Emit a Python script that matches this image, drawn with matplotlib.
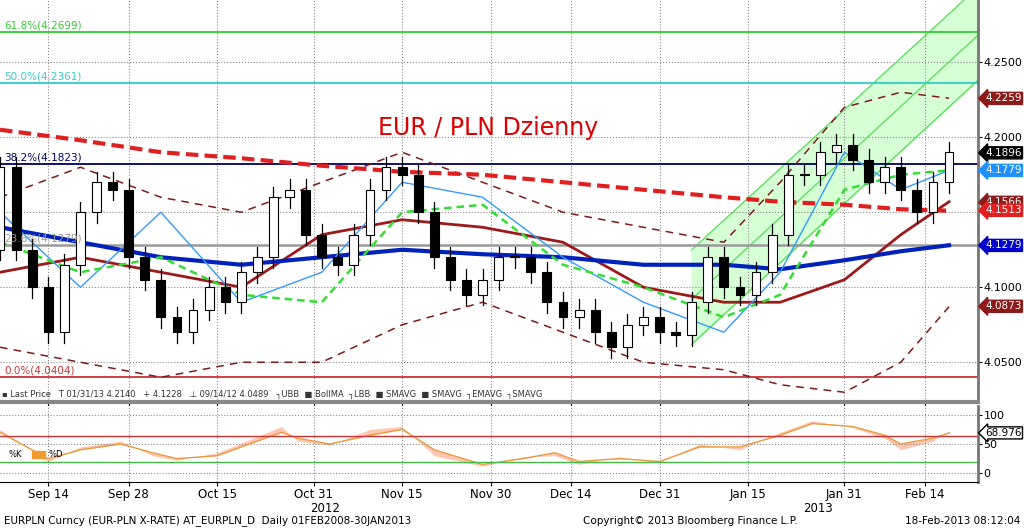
import numpy as np
import pandas as pd
import matplotlib
matplotlib.use('Agg')
import matplotlib.pyplot as plt
from matplotlib.patches import Rectangle

# %% data (x = business-day offset from 06 Sep 2012)
start = pd.Timestamp('2012-09-06')
bdays = pd.bdate_range(start, '2013-03-15')

closes = [4.180, 4.125, 4.100, 4.070, 4.115, 4.150, 4.170, 4.165, 4.120, 4.105,
          4.080, 4.070, 4.085, 4.100, 4.090, 4.110, 4.120, 4.160, 4.165, 4.135,
          4.120, 4.115, 4.135, 4.165, 4.180, 4.175, 4.150, 4.120, 4.105, 4.095,
          4.105, 4.120, 4.120, 4.110, 4.090, 4.080, 4.085, 4.070, 4.060, 4.075,
          4.080, 4.070, 4.068, 4.090, 4.120, 4.100, 4.095, 4.110, 4.135, 4.175,
          4.175, 4.190, 4.195, 4.185, 4.170, 4.180, 4.165, 4.150, 4.170, 4.190]
first_open = 4.125
wick = 0.007

knot_x = [0, 10, 20, 30, 40, 50, 60, 70, 80, 90, 97, 105, 112, 118]
ema200 = [4.205, 4.198, 4.190, 4.186, 4.181, 4.177, 4.175, 4.170, 4.165, 4.160, 4.157, 4.155, 4.152, 4.151]
sma100 = [4.140, 4.130, 4.120, 4.115, 4.120, 4.125, 4.122, 4.120, 4.115, 4.115, 4.112, 4.118, 4.124, 4.128]
boll_ma = [4.110, 4.120, 4.110, 4.100, 4.135, 4.145, 4.140, 4.130, 4.100, 4.090, 4.090, 4.105, 4.135, 4.157]
upper_bb = [4.160, 4.180, 4.160, 4.150, 4.170, 4.190, 4.170, 4.150, 4.140, 4.130, 4.170, 4.220, 4.230, 4.226]
lower_bb = [4.060, 4.050, 4.040, 4.050, 4.050, 4.075, 4.090, 4.070, 4.050, 4.045, 4.035, 4.030, 4.050, 4.087]
ema_fast = [4.130, 4.110, 4.120, 4.095, 4.090, 4.150, 4.155, 4.115, 4.100, 4.080, 4.095, 4.165, 4.175, 4.178]
sma_fast = [4.150, 4.100, 4.150, 4.090, 4.110, 4.170, 4.160, 4.120, 4.090, 4.070, 4.110, 4.190, 4.165, 4.178]

stoch_x = [0, 6, 10, 15, 19, 22, 27, 35, 37, 41, 46, 50, 54, 60, 65, 69, 72, 77, 82, 87, 92, 97, 101, 106, 110, 112, 116, 118]
stoch_d = [70, 25, 40, 50, 35, 25, 30, 70, 60, 50, 65, 75, 40, 15, 25, 35, 20, 25, 20, 45, 45, 65, 85, 80, 65, 50, 60, 69]
stoch_k = [75, 20, 45, 55, 30, 22, 35, 80, 55, 48, 75, 80, 30, 12, 28, 30, 15, 28, 18, 50, 40, 70, 90, 78, 60, 40, 55, 72]

fibs = [(4.2699, '61.8%(4.2699)', '#33cc33'), (4.2361, '50.0%(4.2361)', '#33cccc'),
        (4.1823, '38.2%(4.1823)', '#000066'), (4.1279, '23.6%(4.1279)', '#999999'),
        (4.0404, '0.0%(4.0404)', '#cc3333')]
chan_x = [86, 122]
chan_lo = [4.062, 4.240]
chan_mid = [4.092, 4.270]
chan_hi = [4.125, 4.302]

right_tags = [(4.2259, '#8b1a1a', 'white'), (4.1896, 'black', 'white'), (4.1779, '#1e90ff', 'white'),
              (4.1566, '#8b1a1a', 'white'), (4.1513, '#e02020', 'white'), (4.1279, '#0000cc', 'white'),
              (4.0873, '#8b1a1a', 'white')]

tick_dates = ['2012-09-14', '2012-09-28', '2012-10-15', '2012-10-31', '2012-11-15', '2012-11-30',
              '2012-12-14', '2012-12-31', '2013-01-15', '2013-01-31', '2013-02-14']
tick_labels = ['Sep 14', 'Sep 28', 'Oct 15', 'Oct 31', 'Nov 15', 'Nov 30',
               'Dec 14', 'Dec 31', 'Jan 15', 'Jan 31', 'Feb 14']

# %% figure
W, H = 1024, 528
fig = plt.figure(figsize=(W / 100, H / 100), dpi=100)
ax = fig.add_axes([0, 1 - 402 / H, 978 / W, 402 / H])
ax2 = fig.add_axes([0, 1 - 482 / H, 978 / W, 76 / H])
xmax = 121.6
for a in (ax, ax2):
    a.set_xlim(0, xmax)
    a.grid(True, color='#888888', ls=':', lw=0.8)
    a.yaxis.tick_right()
    a.tick_params(axis='y', direction='out', labelsize=8, pad=1, length=3)
    for s in ('top', 'left'):
        a.spines[s].set_visible(False)
    a.spines['right'].set_color('#777777')
    a.spines['right'].set_linewidth(2)
ax.spines['bottom'].set_color('#888888')
ax.spines['bottom'].set_linewidth(3)

ax.set_ylim(4.0235, 4.2915)
ax.set_yticks([4.05, 4.10, 4.15, 4.20, 4.25])
ax.set_yticklabels(['4.0500', '4.1000', '', '4.2000', '4.2500'])

tick_pos = [bdays.get_loc(pd.Timestamp(d)) for d in tick_dates]
ax.set_xticks(tick_pos)
ax.set_xticklabels([])
ax2.set_xticks(tick_pos)
ax2.set_xticklabels(tick_labels, fontsize=8.5)
ax2.tick_params(axis='x', length=3, pad=1)

# channel
ax.fill_between(chan_x, chan_lo, chan_hi, color='#ccffcc', alpha=0.8, zorder=1)
for yy in (chan_lo, chan_mid, chan_hi):
    ax.plot(chan_x, yy, color='#55dd55', lw=0.9, zorder=2)

# fibonacci lines
for val, lab, col in fibs:
    ax.axhline(val, color=col, lw=1.3 if col != '#999999' else 1.8, zorder=2)
    ax.text(0.5, val + 0.001, lab, color=col, fontsize=7.5, va='bottom', zorder=6)

# indicators
ax.plot(knot_x, upper_bb, color='#7b1a1a', ls=(0, (5, 4)), lw=1.1, zorder=3)
ax.plot(knot_x, lower_bb, color='#7b1a1a', ls=(0, (5, 4)), lw=1.1, zorder=3)
ax.plot(knot_x, boll_ma, color='#9b1b1b', lw=2, zorder=3)
ax.plot(knot_x, sma100, color='#0022bb', lw=3, zorder=3)
ax.plot(knot_x, ema200, color='#e02020', ls=(0, (3, 1.5)), lw=3, zorder=3)
ax.plot(knot_x, sma_fast, color='#3399ff', lw=1, zorder=4)
ax.plot(knot_x, ema_fast, color='#33dd33', ls=(0, (3, 2)), lw=1.8, zorder=4)

# candles
opens = [first_open] + closes[:-1]
for i, (o, c) in enumerate(zip(opens, closes)):
    x = 2 * i
    ax.plot([x, x], [min(o, c) - wick, max(o, c) + wick], color='black', lw=0.9, zorder=5)
    ax.add_patch(Rectangle((x - 0.55, min(o, c)), 1.1, max(abs(c - o), 0.0008),
                           facecolor='white' if c >= o else 'black', edgecolor='black',
                           lw=0.8, zorder=5))

fig.text(488 / W, 1 - 128 / H, 'EUR / PLN Dzienny', color='#dd0000', fontsize=17,
         ha='center', va='center')

ax.text(0.3, 4.0255, '\u25aa Last Price   T 01/31/13 4.2140   + 4.1228   \u22a5 09/14/12 4.0489   '
        '\u2510UBB  \u25a0 BollMA  \u2510LBB  \u25a0 SMAVG  \u25a0 SMAVG  \u2510EMAVG  \u2510SMAVG',
        fontsize=6, color='#333333', va='bottom', zorder=7)

# right-hand value tags
for val, bg, fg in right_tags:
    ax.annotate(f'{val:.4f}', xy=(1.0, val), xycoords=('axes fraction', 'data'),
                xytext=(5, 0), textcoords='offset points', fontsize=7.5, color=fg,
                va='center', ha='left', annotation_clip=False,
                bbox=dict(boxstyle='larrow,pad=0.1', fc=bg, ec=bg))

# stochastic panel
ax2.set_ylim(-15, 115)
ax2.set_yticks([0, 50, 100])
ax2.fill_between(stoch_x, stoch_k, stoch_d, color='#ffb090', alpha=0.7, lw=0)
ax2.plot(stoch_x, stoch_d, color='#e89a40', lw=1)
ax2.axhline(64, color='#cc3333', lw=1)
ax2.axhline(19, color='#44bb44', lw=1)
ax2.text(1, 32, '%K', fontsize=6, va='center')
ax2.add_patch(Rectangle((4, 26), 1.6, 12, color='#f29a2e'))
ax2.text(6, 32, '%D', fontsize=6, va='center')
ax2.annotate('68.976', xy=(1.0, 69), xycoords=('axes fraction', 'data'), xytext=(5, 0),
             textcoords='offset points', fontsize=7.5, va='center', annotation_clip=False,
             bbox=dict(boxstyle='larrow,pad=0.1', fc='white', ec='black'))

fig.text(325 / W, 1 - 508 / H, '2012', fontsize=8.5, ha='center', va='center')
fig.text(818 / W, 1 - 508 / H, '2013', fontsize=8.5, ha='center', va='center')
fig.text(4 / W, 1 - 521 / H, 'EURPLN Curncy (EUR-PLN X-RATE) AT_EURPLN_D  Daily 01FEB2008-30JAN2013',
         fontsize=7.5, va='center')
fig.text(690 / W, 1 - 521 / H, 'Copyright\u00a9 2013 Bloomberg Finance L.P.', fontsize=7.5,
         ha='center', va='center')
fig.text(1020 / W, 1 - 521 / H, '18-Feb-2013 08:12:04', fontsize=7.5, ha='right', va='center')

fig.savefig('out.png', dpi=100, facecolor='white')
